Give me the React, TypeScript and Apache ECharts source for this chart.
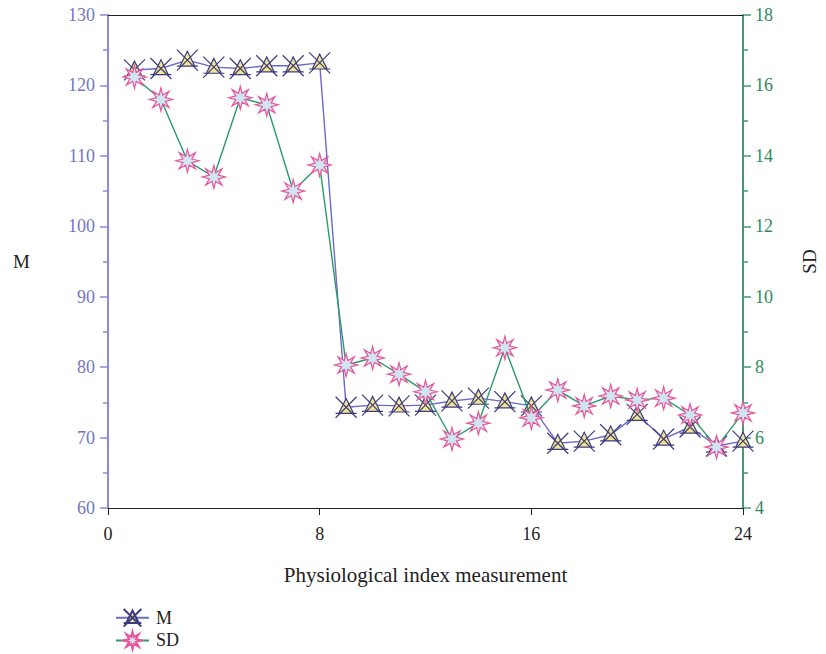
import React, { useEffect, useRef } from "react";
import * as echarts from "echarts";

const measurement = [1, 2, 3, 4, 5, 6, 7, 8, 9, 10, 11, 12, 13, 14, 15, 16, 17, 18, 19, 20, 21, 22, 23, 24];
const mValues = [122.2, 122.4, 123.6, 122.6, 122.4, 122.8, 122.8, 123.2, 74.3, 74.6, 74.5, 74.6, 75.2, 75.6, 75.1, 74.5, 69.2, 69.5, 70.4, 73.3, 69.8, 71.5, 68.8, 69.5];
const sdValues = [16.24, 15.6, 13.86, 13.4, 15.65, 15.45, 13.0, 13.74, 8.06, 8.26, 7.8, 7.3, 5.96, 6.41, 8.55, 6.56, 7.35, 6.9, 7.18, 7.07, 7.12, 6.64, 5.73, 6.7];
const xTicks = [0, 8, 16, 24];

const FONT = "Liberation Serif, DejaVu Serif, serif";

function starPath(): string {
  const pts: string[] = [];
  const n = 8;
  for (let i = 0; i < n * 2; i++) {
    const r = i % 2 === 0 ? 12 : 5;
    const a = (Math.PI * i) / n - Math.PI / 2;
    pts.push(`${(12 + r * Math.cos(a)).toFixed(2)},${(12 + r * Math.sin(a)).toFixed(2)}`);
  }
  return "path://M" + pts.join(" L") + " Z";
}

const triSymbol = "path://M3.5,19 L20.5,19 L12,2 Z M0,0 L24,24 M24,0 L0,24 M0,19 L24,19";

export default function App() {
  const ref = useRef<HTMLDivElement>(null);
  useEffect(() => {
    if (!ref.current) return;
    const chart = echarts.init(ref.current, null, { renderer: "svg" });
    const mData = measurement.map((x, i) => [x, mValues[i]]);
    const sdData = measurement.map((x, i) => [x, sdValues[i]]);
    chart.setOption({
      animation: false,
      backgroundColor: "#ffffff",
      grid: { left: 108, right: 83, top: 15, bottom: 146, outerBoundsMode: "none", containLabel: false },
      legend: {
        orient: "vertical",
        left: 110,
        top: 603,
        height: 60,
        itemWidth: 33,
        itemHeight: 22,
        itemGap: 3,
        textStyle: { fontFamily: FONT, fontSize: 18, color: "#222", padding: [0, 0, 0, 2] },
        data: ["M", "SD"],
      },
      xAxis: [
        {
          type: "value",
          min: 0,
          max: 24,
          interval: 8,
          position: "bottom",
          name: "Physiological index measurement",
          nameLocation: "middle",
          nameGap: 56,
          nameTextStyle: { fontFamily: FONT, fontSize: 21, color: "#222" },
          axisLine: { show: true, onZero: false, lineStyle: { color: "#222", width: 1.2 } },
          axisTick: { show: true, inside: false, length: 7, lineStyle: { color: "#222" } },
          axisLabel: {
            fontFamily: FONT,
            fontSize: 18,
            color: "#222",
            margin: 17,
            customValues: xTicks,
          },
          splitLine: { show: false },
        },
        {
          type: "value",
          min: 0,
          max: 24,
          position: "top",
          axisLine: { show: true, onZero: false, lineStyle: { color: "#222", width: 1.2 } },
          axisTick: { show: false },
          axisLabel: { show: false },
          splitLine: { show: false },
        },
      ],
      yAxis: [
        {
          type: "value",
          min: 60,
          max: 130,
          interval: 10,
          position: "left",
          name: "M",
          nameLocation: "middle",
          nameRotate: 0,
          nameGap: 78,
          nameTextStyle: { fontFamily: FONT, fontSize: 19, color: "#222" },
          axisLine: { show: true, onZero: false, lineStyle: { color: "#8a8ad8", width: 2 } },
          axisTick: { show: true, length: 8, lineStyle: { color: "#8a8ad8", width: 1.5 } },
          minorTick: { show: true, splitNumber: 2, length: 5, lineStyle: { color: "#8a8ad8", width: 1.5 } },
          axisLabel: { fontFamily: FONT, fontSize: 18, color: "#7474c4", margin: 13 },
          splitLine: { show: false },
        },
        {
          type: "value",
          min: 4,
          max: 18,
          interval: 2,
          position: "right",
          name: "SD",
          nameLocation: "middle",
          nameRotate: 90,
          nameGap: 57,
          nameTextStyle: { fontFamily: FONT, fontSize: 19, color: "#222" },
          axisLine: { show: true, onZero: false, lineStyle: { color: "#3f9c74", width: 2 } },
          axisTick: { show: true, length: 8, lineStyle: { color: "#3f9c74", width: 1.5 } },
          minorTick: { show: true, splitNumber: 2, length: 5, lineStyle: { color: "#3f9c74", width: 1.5 } },
          axisLabel: { fontFamily: FONT, fontSize: 18, color: "#2e8a5e", margin: 12 },
          splitLine: { show: false },
        },
      ],
      series: [
        {
          name: "M",
          type: "line",
          xAxisIndex: 0,
          yAxisIndex: 0,
          data: mData,
          symbol: triSymbol,
          symbolSize: 21,
          lineStyle: { color: "#6a6ac8", width: 1.4 },
          itemStyle: { color: "#f4e690", borderColor: "#3b3b80", borderWidth: 1.2 },
          z: 3,
        },
        {
          name: "SD",
          type: "line",
          xAxisIndex: 0,
          yAxisIndex: 1,
          data: sdData,
          symbol: starPath(),
          symbolSize: 23,
          lineStyle: { color: "#2b9a68", width: 1.4 },
          itemStyle: { color: "#cfe6f0", borderColor: "#e8559c", borderWidth: 1.2 },
          z: 4,
        },
      ],
    });
    return () => chart.dispose();
  }, []);
  return <div ref={ref} style={{ position: "fixed", left: 0, top: 0, width: 826, height: 654 }} />;
}
